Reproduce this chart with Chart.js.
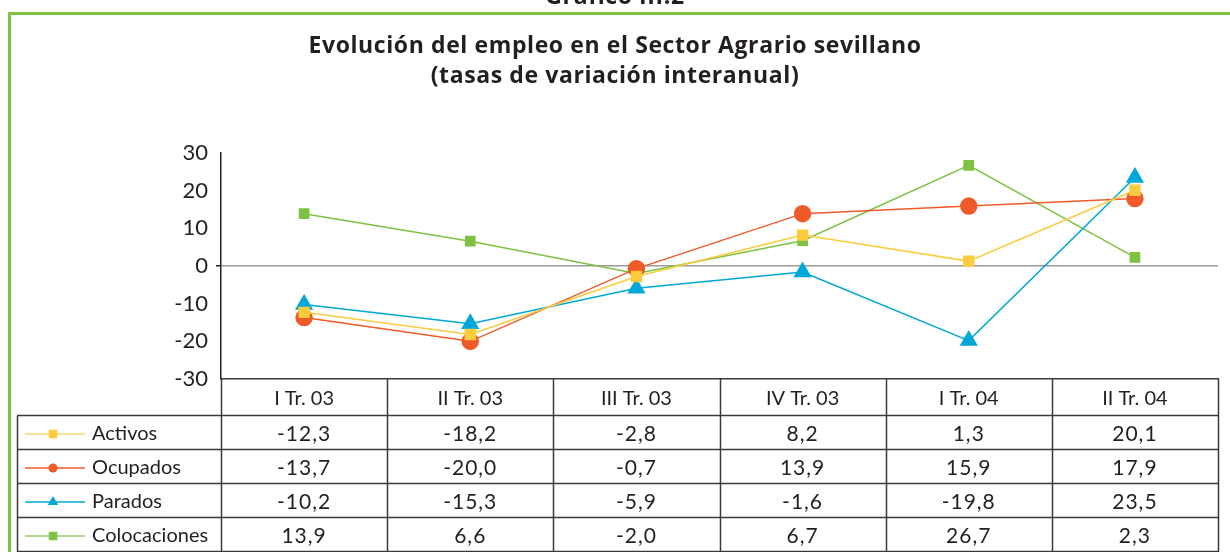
<!DOCTYPE html>
<html>
<head>
<meta charset="utf-8">
<script src="https://cdn.jsdelivr.net/npm/chart.js@4.4.0/dist/chart.umd.min.js"></script>
<style>
  html, body { margin: 0; padding: 0; background: #fff; }
  #wrap { position: relative; width: 1230px; height: 552px; overflow: hidden; }
  #frame { position: absolute; left: 8px; top: 12px; width: 1240px; height: 560px;
           border-left: 3px solid #7dc242; border-top: 3px solid #7dc242; box-sizing: border-box; }
  canvas { position: absolute; left: 0; top: 0; }
</style>
</head>
<body>
<div id="wrap">
  <div id="frame"></div>
  <canvas id="grafico" width="1230" height="552"></canvas>
</div>
<script>
// datos
const trimestres = ['I Tr. 03', 'II Tr. 03', 'III Tr. 03', 'IV Tr. 03', 'I Tr. 04', 'II Tr. 04'];
const activos = [-12.3, -18.2, -2.8, 8.2, 1.3, 20.1];
const ocupados = [-13.7, -20.0, -0.7, 13.9, 15.9, 17.9];
const parados = [-10.2, -15.3, -5.9, -1.6, -19.8, 23.5];
const colocaciones = [13.9, 6.6, -2.0, 6.7, 26.7, 2.3];
const yTicks = [-30, -20, -10, 0, 10, 20, 30];

const fuente = 'Lato, "Open Sans", sans-serif';
const negro = '#231f20';

// titulo + tabla de datos bajo el grafico
const tablaPlugin = {
  id: 'tabla',
  afterDraw(chart) {
    const ctx = chart.ctx;
    const area = chart.chartArea;
    const x = chart.scales.x;
    ctx.save();

    // titulo
    ctx.fillStyle = negro;
    ctx.textAlign = 'center';
    ctx.textBaseline = 'alphabetic';
    ctx.font = 'bold 23px "Open Sans", sans-serif';
    ctx.letterSpacing = '0.6px';
    ctx.fillText('Gráfico III.2', 615, 4);
    ctx.fillText('Evolución del empleo en el Sector Agrario sevillano', 615, 53);
    ctx.fillText('(tasas de variación interanual)', 615, 83);
    ctx.letterSpacing = '0px';

    const colW = (area.right - area.left) / trimestres.length;
    const top = area.bottom;
    const headH = 37;
    const rowH = 34;
    const leftT = 17;
    const rows = chart.data.datasets;
    const bottom = top + headH + rowH * rows.length;

    ctx.strokeStyle = '#3a3a3a';
    ctx.lineWidth = 1.5;
    ctx.beginPath();
    // verticales
    for (let i = 0; i <= trimestres.length; i++) {
      const xx = Math.round(area.left + colW * i) + 0.5;
      ctx.moveTo(xx, top);
      ctx.lineTo(xx, bottom);
    }
    ctx.moveTo(leftT + 0.5, top + headH);
    ctx.lineTo(leftT + 0.5, bottom);
    // horizontales
    for (let r = 0; r <= rows.length; r++) {
      const yy = Math.round(top + headH + rowH * r) - 0.5;
      ctx.moveTo(leftT, yy);
      ctx.lineTo(area.right, yy);
    }
    ctx.stroke();

    // cabecera
    ctx.textBaseline = 'middle';
    ctx.font = '20px ' + fuente;
    trimestres.forEach((t, i) => {
      ctx.fillText(t, x.getPixelForValue(i), top + headH / 2 + 1);
    });

    // filas
    rows.forEach((ds, r) => {
      const cy = top + headH + rowH * r + rowH / 2 + 1;
      // leyenda
      ctx.strokeStyle = ds.legendLine;
      ctx.lineWidth = 1.5;
      ctx.beginPath();
      ctx.moveTo(25, cy);
      ctx.lineTo(85, cy);
      ctx.stroke();
      ctx.fillStyle = ds.backgroundColor;
      Chart.helpers.drawPoint(ctx, { pointStyle: ds.pointStyle, radius: ds.legendRadius, borderWidth: 0 }, 53, cy);
      ctx.fillStyle = negro;
      ctx.textAlign = 'left';
      ctx.font = '20px ' + fuente;
      ctx.fillText(ds.label, 92, cy);
      ctx.textAlign = 'center';
      ctx.font = '21px ' + fuente;
      ctx.letterSpacing = '1px';
      ds.data.forEach((v, i) => {
        ctx.fillText(v.toFixed(1).replace('.', ','), x.getPixelForValue(i), cy);
      });
      ctx.letterSpacing = '0px';
    });
    ctx.restore();
  }
};

new Chart(document.getElementById('grafico'), {
  type: 'line',
  data: {
    labels: trimestres,
    datasets: [
      {
        label: 'Activos',
        data: activos,
        borderColor: '#fdcb3e',
        backgroundColor: '#fdcb3e',
        legendLine: '#fdd66a',
        pointStyle: 'rect',
        pointRadius: 7,
        legendRadius: 6,
        borderWidth: 1.5,
      },
      {
        label: 'Ocupados',
        data: ocupados,
        borderColor: '#f05a28',
        backgroundColor: '#f05a28',
        legendLine: '#f05a28',
        pointStyle: 'circle',
        pointRadius: 8,
        legendRadius: 4.5,
        borderWidth: 1.5,
      },
      {
        label: 'Parados',
        data: parados,
        borderColor: '#00a8d8',
        backgroundColor: '#00a8d8',
        legendLine: '#00a8d8',
        pointStyle: 'triangle',
        pointRadius: 9,
        legendRadius: 6,
        borderWidth: 1.5,
      },
      {
        label: 'Colocaciones',
        data: colocaciones,
        borderColor: '#7dc242',
        backgroundColor: '#7dc242',
        legendLine: '#95cf70',
        pointStyle: 'rect',
        pointRadius: 6.5,
        legendRadius: 6,
        borderWidth: 1.5,
      },
    ]
  },
  options: {
    responsive: false,
    animation: false,
    layout: {
      padding: { left: 0, right: 12, top: 153, bottom: 173 }
    },
    elements: {
      point: { borderWidth: 0, hoverRadius: 8 },
      line: { tension: 0 }
    },
    scales: {
      x: {
        offset: true,
        ticks: { display: false },
        grid: { display: false },
        border: { color: '#3a3a3a', width: 1.5 },
        afterFit(scale) { scale.height = 0; }
      },
      y: {
        min: -30,
        max: 30,
        afterBuildTicks(scale) { scale.ticks = yTicks.map(v => ({ value: v })); },
        afterFit(scale) { scale.width = 221; },
        ticks: {
          color: negro,
          padding: 8,
          font: { family: fuente, size: 22 },
        },
        grid: {
          drawOnChartArea: true,
          tickLength: 5,
          tickColor: negro,
          color: ctx => ctx.tick && ctx.tick.value === 0 ? '#9a9a9a' : 'rgba(0,0,0,0)',
          lineWidth: ctx => ctx.tick && ctx.tick.value === 0 ? 1.5 : 0,
        },
        border: { color: negro, width: 1.5 },
      },
    },
    plugins: {
      legend: { display: false },
      tooltip: { enabled: false },
    },
  },
  plugins: [tablaPlugin]
});
</script>
</body>
</html>
